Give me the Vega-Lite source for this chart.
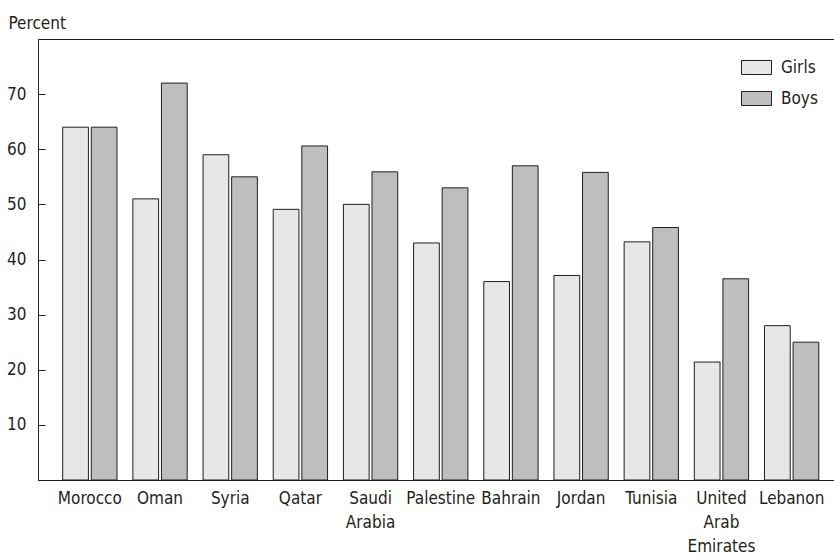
{
  "$schema": "https://vega.github.io/schema/vega-lite/v6.json",
  "autosize": "none",
  "padding": {"left": 38, "top": 39, "right": 0, "bottom": 78},
  "width": 800,
  "height": 441,
  "background": "white",
  "config": {
    "view": {"stroke": "#231f20", "strokeWidth": 1},
    "font": "DejaVu Sans Condensed",
    "axis": {"labelFont": "DejaVu Sans Condensed", "titleFont": "DejaVu Sans Condensed", "labelColor": "#231f20", "titleColor": "#231f20", "domainColor": "#231f20", "tickColor": "#231f20", "grid": false},
    "legend": {"labelFont": "DejaVu Sans Condensed", "labelColor": "#231f20"}
  },
  "data": {
    "values": [
      {"country": "Morocco", "sex": "Girls", "value": 64},
      {"country": "Morocco", "sex": "Boys", "value": 64},
      {"country": "Oman", "sex": "Girls", "value": 51},
      {"country": "Oman", "sex": "Boys", "value": 72},
      {"country": "Syria", "sex": "Girls", "value": 59},
      {"country": "Syria", "sex": "Boys", "value": 55},
      {"country": "Qatar", "sex": "Girls", "value": 49.1},
      {"country": "Qatar", "sex": "Boys", "value": 60.6},
      {"country": "Saudi Arabia", "sex": "Girls", "value": 50},
      {"country": "Saudi Arabia", "sex": "Boys", "value": 55.9},
      {"country": "Palestine", "sex": "Girls", "value": 43},
      {"country": "Palestine", "sex": "Boys", "value": 53},
      {"country": "Bahrain", "sex": "Girls", "value": 36},
      {"country": "Bahrain", "sex": "Boys", "value": 57},
      {"country": "Jordan", "sex": "Girls", "value": 37.1},
      {"country": "Jordan", "sex": "Boys", "value": 55.8},
      {"country": "Tunisia", "sex": "Girls", "value": 43.2},
      {"country": "Tunisia", "sex": "Boys", "value": 45.8},
      {"country": "United Arab Emirates", "sex": "Girls", "value": 21.4},
      {"country": "United Arab Emirates", "sex": "Boys", "value": 36.5},
      {"country": "Lebanon", "sex": "Girls", "value": 28},
      {"country": "Lebanon", "sex": "Boys", "value": 25}
    ]
  },
  "mark": {"type": "bar", "stroke": "#231f20", "strokeWidth": 1},
  "encoding": {
    "x": {
      "field": "country",
      "type": "nominal",
      "sort": null,
      "scale": {"paddingInner": 0.226, "paddingOuter": 0.3127, "align": 0.5626},
      "axis": {
        "title": null,
        "ticks": false,
        "labelAngle": 0,
        "labelFontSize": 17,
        "labelLineHeight": 24,
        "labelPadding": 10,
        "labelExpr": "split(datum.label, ' ')",
        "domainWidth": 1
      }
    },
    "xOffset": {
      "field": "sex",
      "type": "nominal",
      "sort": ["Girls", "Boys"],
      "scale": {"paddingInner": 0.1, "paddingOuter": 0}
    },
    "y": {
      "field": "value",
      "type": "quantitative",
      "scale": {"domain": [0, 80], "nice": false},
      "axis": {
        "title": "Percent",
        "titleAngle": 0,
        "titleAlign": "left",
        "titleBaseline": "alphabetic",
        "titleX": -30,
        "titleY": -11,
        "titleFontSize": 17,
        "titleFontWeight": "normal",
        "titlePadding": 0,
        "values": [10, 20, 30, 40, 50, 60, 70],
        "tickSize": -7,
        "labelPadding": 19,
        "labelFontSize": 17,
        "domainWidth": 1
      }
    },
    "fill": {
      "field": "sex",
      "type": "nominal",
      "sort": ["Girls", "Boys"],
      "scale": {"domain": ["Girls", "Boys"], "range": ["#e6e7e8", "#bcbec0"]},
      "legend": {
        "title": null,
        "orient": "none",
        "legendX": 703,
        "legendY": 13,
        "padding": 0,
        "symbolType": "M-1,-0.467H1V0.467H-1Z",
        "symbolSize": 900,
        "symbolStrokeColor": "#231f20",
        "symbolStrokeWidth": 1,
        "labelFontSize": 17,
        "labelOffset": 9,
        "rowPadding": 6
      }
    }
  }
}
